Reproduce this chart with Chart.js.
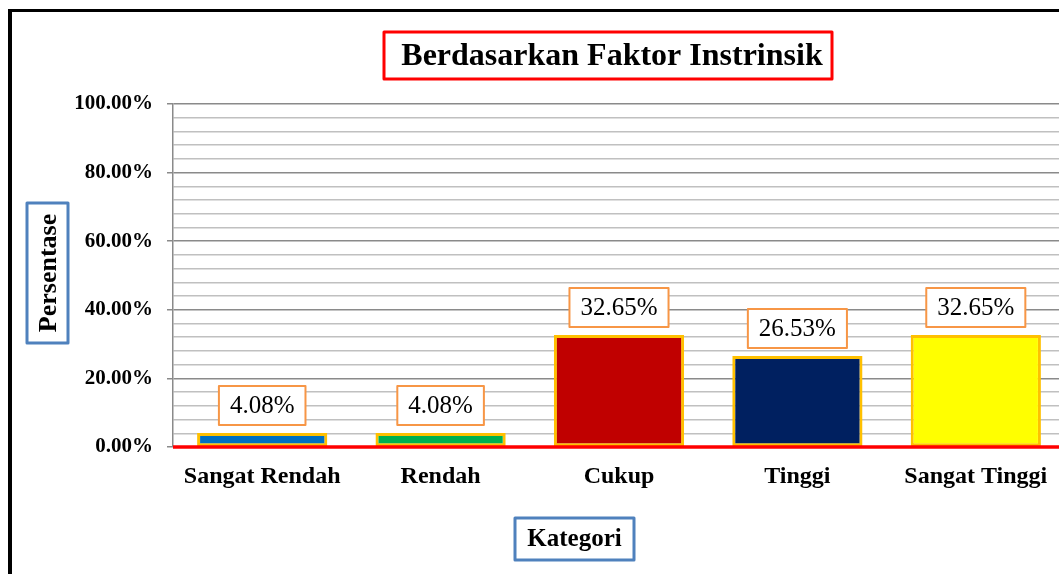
<!DOCTYPE html>
<html>
<head>
<meta charset="utf-8">
<script src="https://cdn.jsdelivr.net/npm/chart.js@4.4.1/dist/chart.umd.min.js"></script>
<style>
html,body{margin:0;padding:0;background:#fff;overflow:hidden;}
canvas{display:block;}
</style>
</head>
<body>
<canvas id="c" width="1066" height="574"></canvas>
<script>
const categories = ['Sangat Rendah', 'Rendah', 'Cukup', 'Tinggi', 'Sangat Tinggi'];
const values = [4.08, 4.08, 32.65, 26.53, 32.65];
const valueLabels = ['4.08%', '4.08%', '32.65%', '26.53%', '32.65%'];
const barColors = ['#0070C0', '#00B050', '#C00000', '#002060', '#FFFF00'];
const chartTitle = 'Berdasarkan Faktor Instrinsik';
const yTitle = 'Persentase';
const xTitle = 'Kategori';

const SERIF = "'Liberation Serif','Times New Roman',serif";

function strokeBox(ctx, x, y, w, h, color, lw) {
  ctx.save();
  ctx.fillStyle = '#fff';
  ctx.fillRect(x, y, w, h);
  ctx.strokeStyle = color;
  ctx.lineWidth = lw;
  ctx.lineJoin = 'round';
  ctx.strokeRect(x, y, w, h);
  ctx.restore();
}

const decor = {
  id: 'decor',
  beforeDraw(chart) {
    const ctx = chart.ctx;
    ctx.save();
    ctx.fillStyle = '#fff';
    ctx.fillRect(0, 0, chart.width, chart.height);
    ctx.fillStyle = '#000';
    ctx.fillRect(8, 9, 4, chart.height);
    ctx.fillRect(8, 9, chart.width, 3);
    ctx.restore();
  },
  afterDatasetsDraw(chart) {
    const ctx = chart.ctx;
    const ca = chart.chartArea;
    const yScale = chart.scales.y;
    const y0 = yScale.getPixelForValue(0);
    ctx.save();
    ctx.strokeStyle = '#FF0000';
    ctx.lineWidth = 3.5;
    ctx.beginPath();
    ctx.moveTo(ca.left, y0);
    ctx.lineTo(ca.right, y0);
    ctx.stroke();
    ctx.restore();

    const meta = chart.getDatasetMeta(0);
    ctx.save();
    ctx.font = '25px ' + SERIF;
    meta.data.forEach((bar, i) => {
      const txt = valueLabels[i];
      const tw = ctx.measureText(txt).width;
      const w = tw + 22, h = 39;
      const bx = bar.x - w / 2;
      const by = bar.y - 8 - h;
      strokeBox(ctx, bx, by, w, h, '#F79646', 2);
      ctx.fillStyle = '#000';
      ctx.textAlign = 'center';
      ctx.textBaseline = 'middle';
      ctx.fillText(txt, bar.x, by + h / 2 + 1);
    });
    ctx.restore();
  },
  afterDraw(chart) {
    const ctx = chart.ctx;
    ctx.save();
    strokeBox(ctx, 384, 32, 448, 47, '#FF0000', 3);
    ctx.fillStyle = '#000';
    ctx.font = 'bold 32px ' + SERIF;
    ctx.textAlign = 'center';
    ctx.textBaseline = 'middle';
    ctx.fillText(chartTitle, 612, 57);
    strokeBox(ctx, 515, 518, 119, 42, '#4F81BD', 3);
    ctx.font = 'bold 25px ' + SERIF;
    ctx.fillText(xTitle, 574.5, 540);
    strokeBox(ctx, 27, 203, 41, 140, '#4F81BD', 3);
    ctx.translate(48, 273);
    ctx.rotate(-Math.PI / 2);
    ctx.font = 'bold 26px ' + SERIF;
    ctx.fillText(yTitle, 0, 1);
    ctx.restore();
  }
};

new Chart(document.getElementById('c'), {
  type: 'bar',
  data: {
    labels: categories,
    datasets: [{
      data: values,
      backgroundColor: barColors,
      borderColor: '#FFC000',
      borderWidth: 3,
      borderSkipped: false,
      categoryPercentage: 1,
      barPercentage: 0.73
    }]
  },
  options: {
    responsive: false,
    animation: false,
    devicePixelRatio: 1,
    layout: { padding: { top: 104, right: 1, left: 0, bottom: 0 } },
    plugins: { legend: { display: false }, tooltip: { enabled: false }, title: { display: false } },
    scales: {
      x: {
        grid: { display: false, drawTicks: false },
        border: { display: false },
        ticks: {
          color: '#000',
          font: { family: SERIF, size: 24, weight: 'bold' },
          padding: 15,
          maxRotation: 0,
          autoSkip: false
        },
        afterFit(scale) { scale.height = 127; }
      },
      y: {
        min: 0,
        max: 100,
        grid: {
          color: (c) => (Math.round(c.tick.value) % 20 === 0 ? '#8A8A8A' : '#C0C0C0'),
          lineWidth: 1.5,
          tickLength: 6,
          tickColor: (c) => (Math.round(c.tick.value) % 20 === 0 ? '#8A8A8A' : 'rgba(0,0,0,0)'),
          tickWidth: 1.5
        },
        border: { display: true, color: '#8A8A8A', width: 1.5 },
        ticks: {
          stepSize: 4,
          color: '#000',
          padding: 14,
          autoSkip: false,
          font: { family: SERIF, size: 21, weight: 'bold' },
          callback: (v) => (Math.round(v) % 20 === 0 ? Number(v).toFixed(2) + '%' : '')
        },
        afterFit(scale) { scale.width = 173; }
      }
    }
  },
  plugins: [decor]
});
</script>
</body>
</html>
